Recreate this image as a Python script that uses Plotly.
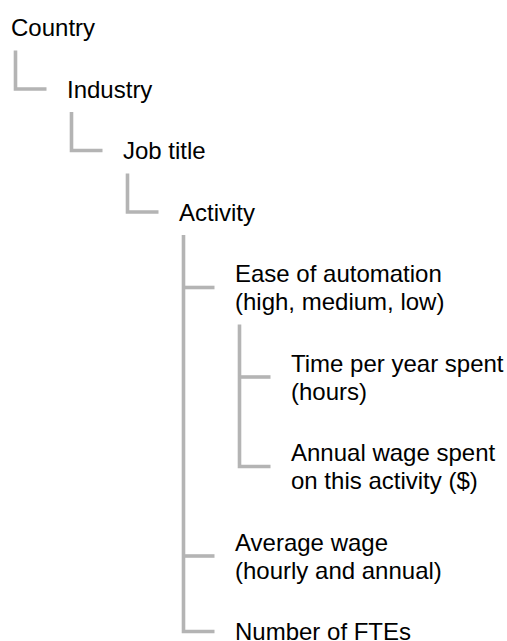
import plotly.graph_objects as go

# Tree of data fields, listed top to bottom; each label is a list of its text lines.
LABELS = [
    ["Country"],
    ["Industry"],
    ["Job title"],
    ["Activity"],
    ["Ease of automation", "(high, medium, low)"],
    ["Time per year spent", "(hours)"],
    ["Annual wage spent", "on this activity ($)"],
    ["Average wage", "(hourly and annual)"],
    ["Number of FTEs"],
]
# index of each node's parent in LABELS (None = root)
PARENTS = [None, 0, 1, 2, 3, 4, 4, 3, 3]

W, H = 507, 641
LINE_COLOR = "#b4b4b4"
FONT = dict(family="Liberation Sans, Arial, sans-serif", size=24, color="#000000")

# layout constants (pixels)
X0, INDENT = 10, 56
Y0, ROW_GAP, LINE_GAP = 27.5, 61.5, 28
STEM_DX, ARM_LEN, STEM_DY = 5.5, 31, 23

depth = []
for p in PARENTS:
    depth.append(0 if p is None else depth[p] + 1)

# centre y of each node's text block
centers = []
for i, lines in enumerate(LABELS):
    if i == 0:
        centers.append(Y0)
    else:
        extra = (len(LABELS[i - 1]) - 1 + len(lines) - 1) * LINE_GAP / 2
        centers.append(centers[-1] + ROW_GAP + extra)

text_x = [X0 + INDENT * d for d in depth]


def last_line_y(i):
    return centers[i] + (len(LABELS[i]) - 1) * LINE_GAP / 2


fig = go.Figure()

# connectors: one stem per parent, one arm per child
lx, ly = [], []
for p in range(len(LABELS)):
    kids = [c for c, q in enumerate(PARENTS) if q == p]
    if not kids:
        continue
    vx = text_x[p] + STEM_DX
    last = kids[-1]
    lx += [vx, vx, vx + ARM_LEN, None]
    ly += [last_line_y(p) + STEM_DY, centers[last], centers[last], None]
    for c in kids[:-1]:
        lx += [vx, vx + ARM_LEN, None]
        ly += [centers[c], centers[c], None]

fig.add_trace(go.Scatter(x=lx, y=ly, mode="lines", hoverinfo="skip",
                         line=dict(color=LINE_COLOR, width=3.6)))

for i, lines in enumerate(LABELS):
    n = len(lines)
    for k, t in enumerate(lines):
        fig.add_annotation(x=text_x[i], y=centers[i] + (k - (n - 1) / 2) * LINE_GAP,
                           xref="x", yref="y", text=t, showarrow=False,
                           xanchor="left", yanchor="middle", font=FONT, borderpad=0)

fig.update_layout(
    width=W, height=H, margin=dict(l=0, r=0, t=0, b=0),
    paper_bgcolor="white", plot_bgcolor="white", showlegend=False,
    xaxis=dict(range=[0, W], visible=False, fixedrange=True),
    yaxis=dict(range=[H, 0], visible=False, fixedrange=True),
)

# drop the page's default 8px body margin so the figure sits at the window's corner
fig.write_html("out.html", config={"displayModeBar": False},
               post_script="document.body.style.margin = '0'; document.body.style.overflow = 'hidden';")
